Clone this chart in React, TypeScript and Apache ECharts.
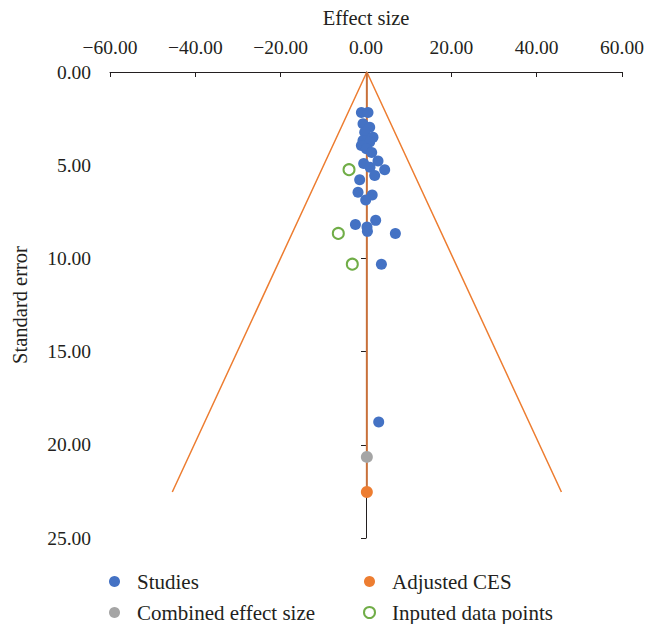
import React, { useEffect, useRef } from "react";
import * as echarts from "echarts";

// Individual studies: effect size and standard error
const studyEffect = [
  -1.08, 0.47, -0.7, 0.87, -0.3, 1.64, -0.7, 0.87, -1.08, 0.09, 1.34,
  -0.54, 0.94, 2.81, 4.38, 2.04, -1.48, -1.87, 1.45, -0.07, -2.48, 2.27,
  0.23, 0.33, 6.89, 3.61, 2.98,
];
const studySE = [
  2.17, 2.17, 2.78, 2.96, 3.23, 3.5, 3.67, 3.76, 3.94, 4.12, 4.32,
  4.91, 5.11, 4.77, 5.24, 5.55, 5.78, 6.45, 6.6, 6.87, 8.18, 7.96,
  8.32, 8.55, 8.66, 10.31, 18.78,
];

// Trim-and-fill imputed points
const imputedEffect = [-3.98, -6.49, -3.21];
const imputedSE = [5.24, 8.66, 10.31];

// Pooled estimates
const combinedEffect = 0.2;
const combinedSE = 20.65;
const adjustedEffect = 0.2;
const adjustedSE = 22.53;

// Funnel boundaries
const funnelEffect = [-45.4, 0.2, 45.8];
const funnelSE = [22.53, 0, 22.53];

// Axis settings
const xTicks = { min: -60, max: 60, interval: 20 };
const yTicks = { min: 0, max: 25, interval: 5 };

const FONT = "'Liberation Serif', 'Times New Roman', serif";
const TEXT = "#231f20";

const zip = (a: number[], b: number[]) => a.map((v, i) => [v, b[i]]);

export default function App() {
  const ref = useRef<HTMLDivElement>(null);

  useEffect(() => {
    document.body.style.margin = "0";
    if (!ref.current) return;
    const chart = echarts.init(ref.current, null, { renderer: "svg" });

    const fmtX = (v: number) => (v < 0 ? "\u2212" : "") + Math.abs(v).toFixed(2);
    const legendText = {
      fontFamily: FONT,
      fontSize: 21,
      color: TEXT,
      padding: [0, 0, 0, 12],
      lineHeight: 20,
    };

    chart.setOption({
      animation: false,
      grid: {
        left: 110,
        right: 38,
        top: 72,
        bottom: 86,
        containLabel: false,
        outerBoundsMode: "none",
      },
      xAxis: {
        type: "value",
        position: "top",
        ...xTicks,
        name: "Effect size",
        nameLocation: "middle",
        nameGap: 44,
        nameTextStyle: { fontFamily: FONT, fontSize: 20.5, color: TEXT },
        axisLine: { show: true, onZero: false, lineStyle: { color: "#231f20", width: 1 } },
        axisTick: { show: true, inside: true, length: 5, lineStyle: { color: "#231f20" } },
        axisLabel: {
          formatter: fmtX,
          fontFamily: FONT,
          fontSize: 19.5,
          color: TEXT,
          margin: 15,
        },
        splitLine: { show: false },
      },
      yAxis: [
        {
          // labels and title on the left edge
          type: "value",
          inverse: true,
          ...yTicks,
          name: "Standard error",
          nameLocation: "middle",
          nameGap: 80,
          nameRotate: 90,
          nameTextStyle: { fontFamily: FONT, fontSize: 20.5, color: TEXT },
          axisLine: { show: false, onZero: false },
          axisTick: { show: false },
          axisLabel: {
            formatter: (v: number) => v.toFixed(2),
            fontFamily: FONT,
            fontSize: 19.5,
            color: TEXT,
            margin: 19,
          },
          splitLine: { show: false },
        },
        {
          // axis line crossing at zero effect
          type: "value",
          inverse: true,
          ...yTicks,
          axisLine: {
            show: true,
            onZero: true,
            onZeroAxisIndex: 0,
            lineStyle: { color: "#231f20", width: 1 },
          },
          axisTick: { show: true, inside: true, length: 5, lineStyle: { color: "#231f20" } },
          axisLabel: { show: false },
          splitLine: { show: false },
        },
      ],
      legend: [
        {
          left: 109,
          top: 571,
          padding: 0,
          orient: "vertical",
          itemGap: 10,
          itemWidth: 11,
          itemHeight: 11,
          icon: "circle",
          textStyle: legendText,
          data: ["Studies", "Combined effect size"],
        },
        {
          left: 363,
          top: 571,
          padding: 0,
          orient: "vertical",
          itemGap: 10,
          itemWidth: 11,
          itemHeight: 11,
          textStyle: legendText,
          data: [
            { name: "Adjusted CES", icon: "circle" },
            { name: "Inputed data points", icon: "emptyCircle" },
          ],
        },
      ],
      series: [
        {
          name: "Funnel",
          type: "line",
          data: zip(funnelEffect, funnelSE),
          symbol: "none",
          lineStyle: { color: "#ed7d31", width: 1.5 },
          z: 2,
          silent: true,
        },
        {
          name: "Adjusted line",
          type: "line",
          data: [
            [adjustedEffect, 0],
            [adjustedEffect, adjustedSE],
          ],
          symbol: "none",
          lineStyle: { color: "#c8703a", width: 2 },
          z: 3,
          silent: true,
        },
        {
          name: "Studies",
          type: "scatter",
          data: zip(studyEffect, studySE),
          symbol: "circle",
          symbolSize: 11,
          itemStyle: { color: "#4472c4", opacity: 1 },
          z: 5,
        },
        {
          name: "Combined effect size",
          type: "scatter",
          data: [[combinedEffect, combinedSE]],
          symbol: "circle",
          symbolSize: 12,
          itemStyle: { color: "#a5a5a5", opacity: 1 },
          z: 5,
        },
        {
          name: "Adjusted CES",
          type: "scatter",
          data: [[adjustedEffect, adjustedSE]],
          symbol: "circle",
          symbolSize: 12,
          itemStyle: { color: "#ed7d31", opacity: 1 },
          z: 5,
        },
        {
          name: "Inputed data points",
          type: "scatter",
          data: zip(imputedEffect, imputedSE),
          symbol: "emptyCircle",
          symbolSize: 11,
          itemStyle: { color: "#70ad47", borderColor: "#70ad47", borderWidth: 1.5, opacity: 1 },
          z: 5,
        },
      ],
    });

    return () => chart.dispose();
  }, []);

  return <div ref={ref} style={{ width: 660, height: 624 }} />;
}
